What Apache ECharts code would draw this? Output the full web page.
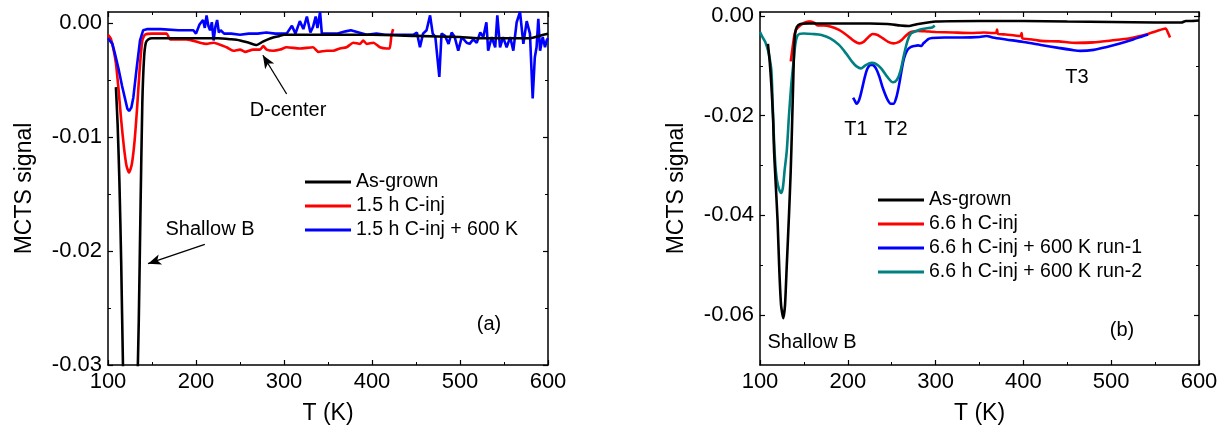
<!DOCTYPE html>
<html>
<head>
<meta charset="utf-8">
<script src="https://cdn.jsdelivr.net/npm/echarts@6/dist/echarts.min.js"></script>
<style>
html,body{margin:0;padding:0;background:#fff;}
#chart{width:1222px;height:435px;}
</style>
</head>
<body>
<div id="chart"></div>
<script>
// ---------- Panel (a) data: [T (K), MCTS signal] ----------
const aAsGrown = [[109,-0.0056],[111,-0.009],[113,-0.014],[115,-0.021],[117,-0.030],[119,-0.036],[121,-0.041],[124,-0.045],[127,-0.045],[130,-0.040],[133,-0.033],[135,-0.026],[137,-0.016],[139,-0.007],[141,-0.003],[143,-0.0017],[146,-0.0014],[150,-0.0013],[175,-0.0013],[200,-0.0013],[225,-0.0013],[240,-0.0014],[250,-0.0015],[260,-0.0017],[269,-0.0019],[276,-0.0016],[285,-0.0013],[295,-0.0011],[300,-0.001],[350,-0.001],[400,-0.001],[450,-0.0011],[500,-0.0012],[520,-0.0013],[560,-0.0013],[580,-0.0013],[590,-0.0011],[600,-0.0009]];
const aCinj = [[100,-0.001],[103,-0.0013],[106,-0.0022],[109,-0.0035],[112,-0.0058],[115,-0.0085],[118,-0.0108],[121,-0.0125],[124,-0.0131],[127,-0.0124],[130,-0.0105],[133,-0.0075],[136,-0.004],[139,-0.0015],[142,-0.001],[150,-0.0009],[160,-0.0009],[166.7,-0.0009],[170.5,-0.0014],[189.4,-0.0014],[204.5,-0.0017],[212,-0.0018],[219.7,-0.0017],[234.8,-0.0021],[242.4,-0.0024],[250,-0.0023],[255.7,-0.0025],[265,-0.0023],[272.7,-0.0023],[276.5,-0.002],[280.3,-0.0023],[287.9,-0.0024],[295.5,-0.0023],[303,-0.0021],[318,-0.0022],[333,-0.0021],[339,-0.0025],[348.5,-0.0024],[356,-0.0024],[363.6,-0.0022],[371,-0.0021],[378.8,-0.0017],[386.4,-0.0018],[390,-0.0015],[394,-0.0018],[401.5,-0.0017],[409,-0.0021],[416.7,-0.0022],[420,-0.0022],[422,-0.0011],[424,-0.0005]];
const aCinj600 = [[100,-0.0013],[105,-0.0018],[108,-0.0027],[111.7,-0.0039],[116,-0.0055],[119.3,-0.0066],[122,-0.0075],[124,-0.0077],[126.5,-0.0074],[128.8,-0.0065],[132.6,-0.0039],[136.4,-0.0015],[140,-0.0006],[145,-0.0005],[160,-0.0005],[180,-0.0006],[197,-0.0006],[200,-0.0009],[204,-0.0001],[208,0.0003],[210,-0.0004],[212,0.0007],[214,-0.0002],[216,-0.0006],[218,0.0001],[220,-0.0015],[222,-0.0003],[224,0.0003],[226,-0.0008],[228,-0.0006],[232,-0.0009],[240,-0.0009],[250,-0.001],[260,-0.0009],[270,-0.0009],[280,-0.0008],[290,-0.0009],[303,-0.0009],[309,-0.0002],[313,-0.0009],[318,0.0002],[322,-0.0005],[326,0.0006],[330,-0.0008],[333,-0.0003],[336,0.0006],[338,-0.0004],[341,0.001],[343,-0.0009],[350,-0.0009],[360,-0.0009],[370,-0.0007],[376,-0.0006],[385,-0.0008],[394,-0.001],[405,-0.0009],[415,-0.001],[424,-0.001],[435,-0.001],[447,-0.001],[451,-0.0008],[454.5,-0.0021],[458,-0.0009],[462,-0.0006],[466,0.0007],[469,-0.0009],[472,-0.0012],[476.5,-0.0047],[479,-0.0009],[483,-0.0011],[487,-0.0018],[490.5,-0.0008],[494,-0.0012],[498,-0.0024],[502,-0.0012],[507.6,-0.0017],[511,-0.0018],[515,-0.0014],[519,-0.0017],[523,-0.0008],[526.5,-0.0012],[530,0.0001],[532,-0.0024],[536,-0.0012],[540,-0.0021],[542.4,0.0007],[545.5,-0.0021],[549,-0.0012],[553,-0.0021],[557,-0.0012],[560.6,-0.0024],[564.4,0.0001],[568.2,0.001],[572,-0.0018],[575.8,0.0002],[579.5,-0.0009],[582.6,-0.0066],[585,-0.003],[587,-0.0021],[589,0.0004],[591,-0.0024],[594,-0.0012],[596.6,-0.0021],[598.5,-0.0015],[600,-0.0013]];

// ---------- Panel (b) data ----------
const bAsGrown = [[109,-0.0056],[111,-0.009],[113,-0.014],[115,-0.021],[116,-0.027],[118,-0.034],[120,-0.041],[122,-0.051],[124,-0.058],[126.5,-0.0606],[128.5,-0.058],[130.5,-0.05],[133,-0.04],[135,-0.031],[136.5,-0.022],[138,-0.012],[139,-0.006],[140,-0.0035],[142,-0.0022],[146,-0.0016],[155,-0.0015],[175,-0.0015],[200,-0.0015],[225,-0.0015],[245,-0.0016],[260,-0.0019],[269,-0.002],[280,-0.0016],[300,-0.0011],[350,-0.001],[400,-0.001],[450,-0.0011],[500,-0.0012],[550,-0.0013],[580,-0.0013],[585,-0.001],[590,-0.001],[600,-0.0009]];
const bCinj = [[135,-0.0091],[137,-0.0065],[139,-0.004],[141,-0.0028],[145,-0.002],[150,-0.0014],[155,-0.0011],[158,-0.0011],[162,-0.0014],[166,-0.0019],[172,-0.0019],[180,-0.0021],[190,-0.0028],[200,-0.004],[207,-0.005],[213,-0.0055],[218,-0.0052],[223,-0.0043],[228,-0.0036],[234,-0.0038],[240,-0.0045],[246,-0.0052],[252,-0.0055],[257,-0.0053],[262,-0.0047],[267,-0.0038],[272,-0.0032],[280,-0.003],[290,-0.0031],[300,-0.0032],[320,-0.0033],[340,-0.0034],[355,-0.0033],[365,-0.0034],[369,-0.0034],[370,-0.0027],[371,-0.0036],[380,-0.0037],[390,-0.0039],[397,-0.004],[398,-0.0034],[399,-0.0045],[410,-0.0047],[420,-0.005],[440,-0.0051],[460,-0.0054],[480,-0.0053],[500,-0.0049],[520,-0.0045],[540,-0.0037],[552,-0.003],[562,-0.0025],[565,-0.0035],[567,-0.0043]];
const bRun1 = [[206,-0.0164],[208,-0.017],[210,-0.0176],[213,-0.0168],[216,-0.0148],[219,-0.0125],[222,-0.0107],[225,-0.0099],[228,-0.0098],[232,-0.0105],[236,-0.0122],[240,-0.0145],[245,-0.0167],[249,-0.0176],[252,-0.0176],[255,-0.0165],[258,-0.0142],[261,-0.0112],[264,-0.0085],[268,-0.0068],[272,-0.0062],[276,-0.006],[280,-0.0059],[284,-0.006],[286,-0.0055],[288,-0.0052],[292,-0.0046],[296,-0.0044],[310,-0.0043],[330,-0.0043],[350,-0.0042],[358,-0.004],[365,-0.0043],[380,-0.0047],[400,-0.0052],[420,-0.0058],[440,-0.0064],[455,-0.0068],[465,-0.007],[480,-0.0068],[495,-0.0062],[510,-0.0055],[525,-0.0047],[535,-0.0041],[542,-0.0037]];
const bRun2 = [[100,-0.0032],[103,-0.0043],[106,-0.0052],[109,-0.0068],[111,-0.0085],[113,-0.011],[114.5,-0.018],[116,-0.025],[118,-0.031],[120.5,-0.034],[124,-0.0355],[126,-0.0345],[128,-0.031],[130.5,-0.027],[133,-0.02],[135.5,-0.014],[138,-0.0095],[140,-0.006],[142,-0.0042],[145,-0.0036],[150,-0.0035],[160,-0.0036],[170,-0.0038],[180,-0.0045],[190,-0.0058],[198,-0.0075],[205,-0.0092],[210,-0.0101],[215,-0.0105],[220,-0.0099],[227,-0.0094],[232,-0.0096],[238,-0.0105],[245,-0.0122],[251.5,-0.0133],[256,-0.0128],[260,-0.011],[264,-0.0078],[268,-0.005],[272,-0.0035],[278,-0.003],[285,-0.0026],[292,-0.0024],[296,-0.0023],[299,-0.0019]];

// ---------- axis ticks / labels ----------
const xRange = {min:100, max:600, step:100};
const yRangeA = {min:-0.03, max:0.001, step:0.01};
const yRangeB = {min:-0.07, max:0.0008, step:0.01};
const yMajorA = [-0.03,-0.02,-0.01,0];
const yMinorA = [-0.025,-0.015,-0.005];
const yMajorB = [-0.06,-0.04,-0.02,0];
const yMinorB = [-0.05,-0.03,-0.01];
const legendA = ['As-grown','1.5 h C-inj','1.5 h C-inj + 600 K'];
const legendB = ['As-grown','6.6 h C-inj','6.6 h C-inj + 600 K run-1','6.6 h C-inj + 600 K run-2'];

const FONT = 'Liberation Sans, Arial, sans-serif';
const BLACK = '#000000', RED = '#ff0000', BLUE = '#0000ff', TEAL = '#008080';

function xAxisCfg(grid, pos) {
  const main = pos === 'bottom';
  return {
    type:'value', gridIndex:grid, position:pos,
    min:xRange.min, max:xRange.max, interval:xRange.step,
    axisLine:{show:true, onZero:false, lineStyle:{color:BLACK, width:1.5}},
    axisTick:{show:true, inside:true, length:5, lineStyle:{color:BLACK, width:1.2}},
    minorTick:{show:true, splitNumber:2, length:3, lineStyle:{color:BLACK, width:1}},
    splitLine:{show:false},
    axisLabel:{show:main, color:BLACK, fontSize:22, fontFamily:FONT, margin:6},
    name: main ? 'T (K)' : '',
    nameLocation:'middle', nameGap:37,
    nameTextStyle:{color:BLACK, fontSize:23, fontFamily:FONT}
  };
}
function yAxisCfg(grid, pos, r, ticks, isMinor) {
  const main = pos === 'left' && !isMinor;
  return {
    type:'value', gridIndex:grid, position:pos, offset:0,
    min:r.min, max:r.max, interval:r.step,
    axisLine:{show:!isMinor, onZero:false, lineStyle:{color:BLACK, width:1.5}},
    axisTick:{show:true, inside:true, length:isMinor ? 3 : 5, customValues:ticks,
      lineStyle:{color:BLACK, width:isMinor ? 1 : 1.2}},
    minorTick:{show:false},
    splitLine:{show:false},
    axisLabel:{show:main, customValues:ticks, color:BLACK, fontSize:22, fontFamily:FONT, margin:6,
      formatter: v => (Math.abs(v) < 1e-9 ? '0.00' : v.toFixed(2))},
    name: main ? 'MCTS signal' : '',
    nameLocation:'middle', nameGap:72,
    nameTextStyle:{color:BLACK, fontSize:23, fontFamily:FONT}
  };
}
function line(name, data, color, xi, yi, smooth, extra) {
  return Object.assign({
    name, type:'line', data, xAxisIndex:xi, yAxisIndex:yi,
    showSymbol:false, symbol:'none', smooth:smooth, clip:true,
    lineStyle:{color, width:2.6}, itemStyle:{color},
    emphasis:{disabled:true}, z:3
  }, extra || {});
}
const arrowStyle = {color:BLACK, width:1.3, type:'solid'};
function arrow(tail, head) {
  return [{coord:tail, symbol:'none'}, {coord:head, symbol:'arrow', symbolSize:[8,13]}];
}
const textStyle = t => ({text:t, fontSize:20, fontFamily:FONT, fill:BLACK, align:'center', verticalAlign:'middle'});

const option = {
  backgroundColor:'#ffffff',
  animation:false,
  grid:[
    {left:108, top:12, width:440, height:353, containLabel:false},
    {left:760, top:12, width:439, height:353, containLabel:false}
  ],
  xAxis:[xAxisCfg(0,'bottom'), xAxisCfg(1,'bottom'), xAxisCfg(0,'top'), xAxisCfg(1,'top')],
  yAxis:[
    yAxisCfg(0,'left',yRangeA,yMajorA,false), yAxisCfg(1,'left',yRangeB,yMajorB,false),
    yAxisCfg(0,'right',yRangeA,yMajorA,false), yAxisCfg(1,'right',yRangeB,yMajorB,false),
    yAxisCfg(0,'left',yRangeA,yMinorA,true), yAxisCfg(1,'left',yRangeB,yMinorB,true),
    yAxisCfg(0,'right',yRangeA,yMinorA,true), yAxisCfg(1,'right',yRangeB,yMinorB,true)
  ],
  legend:[
    {data:legendA, orient:'vertical', left:305, top:172, padding:0, itemWidth:46, itemHeight:3, itemGap:4, icon:'rect',
     textStyle:{color:BLACK, fontSize:19.5, fontFamily:FONT}, selectedMode:false},
    {data:legendB, orient:'vertical', left:878, top:190, padding:0, itemWidth:46, itemHeight:3, itemGap:4, icon:'rect',
     textStyle:{color:BLACK, fontSize:19.5, fontFamily:FONT}, selectedMode:false}
  ],
  series:[
    line('As-grown', aAsGrown, BLACK, 0, 0, 0.2, {z:4,
      markLine:{silent:true, symbol:['none','arrow'], lineStyle:arrowStyle, label:{show:false},
        data:[arrow([303,-0.0062],[276,-0.0028]), arrow([210,-0.0194],[145.5,-0.0211])]}}),
    line('1.5 h C-inj', aCinj, RED, 0, 0, 0.2),
    line('1.5 h C-inj + 600 K', aCinj600, BLUE, 0, 0, false),
    line('As-grown', bAsGrown, BLACK, 1, 1, 0.2, {z:4}),
    line('6.6 h C-inj', bCinj, RED, 1, 1, 0.2),
    line('6.6 h C-inj + 600 K run-1', bRun1, BLUE, 1, 1, 0.3),
    line('6.6 h C-inj + 600 K run-2', bRun2, TEAL, 1, 1, 0.3)
  ],
  graphic:[
    {type:'text', x:288, y:110, style:textStyle('D-center')},
    {type:'text', x:210, y:229, style:textStyle('Shallow B')},
    {type:'text', x:489, y:324, style:textStyle('(a)')},
    {type:'text', x:856, y:129, style:textStyle('T1')},
    {type:'text', x:896, y:129, style:textStyle('T2')},
    {type:'text', x:1077, y:77, style:textStyle('T3')},
    {type:'text', x:812, y:342, style:textStyle('Shallow B')},
    {type:'text', x:1122, y:330, style:textStyle('(b)')}
  ]
};
const chart = echarts.init(document.getElementById('chart'), null, {renderer:'canvas'});
chart.setOption(option);
</script>
</body>
</html>
